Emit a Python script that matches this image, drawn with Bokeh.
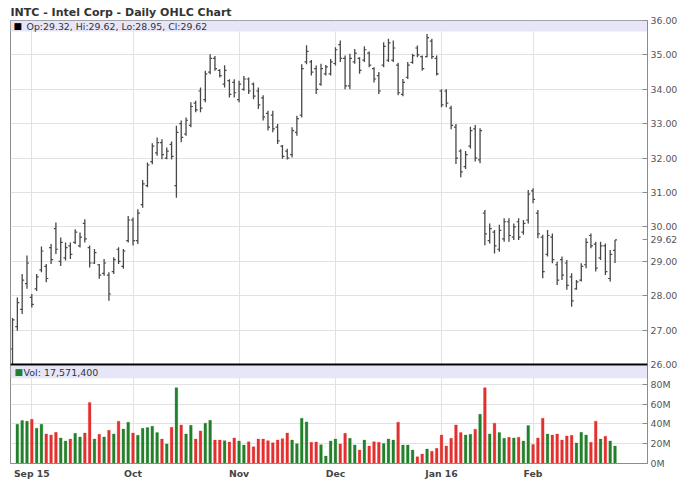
import numpy as np
import pandas as pd
from bokeh.plotting import figure
from bokeh.models import (Range1d, FixedTicker, Label, BoxAnnotation, Span,
                          ColumnDataSource)
from bokeh.embed import file_html
from bokeh.resources import INLINE

# ---------------- data ----------------
chart_title = "INTC - Intel Corp - Daily OHLC Chart"
first_day = "2015-08-26"
last_day = "2016-02-25"
holidays = ["2015-09-07", "2015-11-26", "2015-12-25", "2016-01-01", "2016-01-18", "2016-02-15"]

opens = [26.45, 27.10, 27.60, 28.35, 27.95, 28.20, 28.75, 28.85, 29.40, 29.95,
         29.00, 29.10, 29.45, 29.55, 29.45, 30.10, 29.40, 28.95, 28.90, 28.65,
         28.60, 28.70, 29.35, 28.85, 29.60, 30.20, 29.60, 30.65, 31.20, 31.90,
         32.15, 32.45, 32.00, 32.40, 31.20, 33.00, 32.70, 32.95, 33.60, 33.95,
         33.70, 34.50, 34.90, 34.55, 34.15, 34.25, 34.20, 33.70, 34.00, 34.30,
         34.15, 33.95, 33.75, 33.30, 33.25, 32.90, 32.35, 32.20, 32.10, 32.75,
         33.25, 34.80, 34.80, 34.60, 34.15, 34.45, 34.45, 34.75, 35.30, 34.90,
         34.10, 34.80, 34.90, 34.85, 35.05, 34.60, 34.40, 34.70, 34.85, 34.85,
         34.70, 33.85, 34.35, 34.78, 35.20, 34.95, 34.95, 35.40, 34.90, 33.95,
         33.95, 33.45, 32.90, 32.20, 31.75, 32.35, 32.85, 31.95, 30.40, 29.60,
         29.85, 29.35, 29.65, 30.15, 29.70, 30.15, 29.85, 30.20, 31.05, 30.40,
         29.70, 29.20, 29.70, 28.90, 29.05, 28.95, 28.55, 28.20, 28.45, 28.90,
         29.75, 29.50, 29.10, 29.45, 28.50, 29.32]
highs = [27.35, 27.95, 28.63, 29.17, 28.05, 28.63, 29.43, 28.92, 29.50, 30.13,
         29.69, 29.55, 29.55, 29.93, 29.84, 30.22, 29.46, 29.36, 28.92, 29.07,
         28.68, 29.12, 29.41, 29.36, 30.32, 30.27, 30.51, 31.36, 31.87, 32.43,
         32.60, 32.55, 32.31, 32.48, 32.94, 33.09, 33.18, 33.62, 33.67, 34.05,
         34.54, 35.02, 34.97, 34.58, 34.70, 34.29, 34.29, 34.25, 34.39, 34.34,
         34.20, 34.05, 33.83, 33.38, 33.38, 32.99, 32.38, 32.27, 32.90, 33.23,
         34.73, 35.28, 34.85, 34.69, 34.74, 34.71, 34.88, 35.22, 35.42, 34.98,
         35.03, 35.17, 34.93, 35.25, 35.10, 34.64, 34.50, 35.37, 35.47, 35.42,
         34.77, 34.30, 34.79, 35.03, 35.27, 34.98, 35.61, 35.47, 34.98, 34.00,
         34.00, 33.52, 32.99, 32.26, 32.21, 32.91, 32.96, 32.87, 30.49, 30.10,
         29.91, 30.06, 30.25, 30.25, 30.10, 30.25, 30.20, 31.07, 31.12, 30.49,
         29.77, 29.91, 29.81, 28.99, 29.14, 29.04, 28.65, 28.46, 28.94, 29.67,
         29.81, 29.57, 29.57, 29.52, 29.33, 29.62]
lows = [26.00, 26.98, 27.47, 28.20, 27.66, 28.14, 28.68, 28.39, 28.92, 29.21,
        28.86, 29.02, 29.07, 29.50, 29.40, 29.55, 28.82, 28.92, 28.49, 28.58,
        27.85, 28.63, 28.92, 28.78, 29.55, 29.46, 29.50, 30.56, 31.15, 31.82,
        32.07, 31.97, 31.97, 31.96, 30.85, 32.46, 32.65, 32.90, 33.33, 33.33,
        33.62, 34.44, 34.54, 34.34, 34.05, 33.76, 33.76, 33.62, 33.96, 33.86,
        33.71, 33.43, 33.09, 32.80, 32.75, 32.41, 31.98, 31.96, 32.02, 32.65,
        33.18, 34.73, 34.40, 33.86, 34.10, 34.40, 34.40, 34.69, 34.79, 34.00,
        34.00, 34.74, 34.45, 34.79, 34.64, 34.20, 33.86, 34.64, 34.79, 34.79,
        33.83, 33.80, 34.30, 34.74, 34.93, 34.54, 34.93, 34.88, 34.40, 33.48,
        33.48, 32.84, 31.83, 31.44, 31.68, 32.28, 31.90, 31.85, 29.47, 29.52,
        29.23, 29.28, 29.57, 29.57, 29.62, 29.62, 29.77, 30.10, 30.69, 29.67,
        28.51, 29.14, 28.94, 28.31, 28.46, 28.17, 27.68, 28.17, 28.41, 28.80,
        29.38, 28.70, 29.04, 28.60, 28.41, 28.95]
closes = [27.30, 27.80, 28.45, 28.95, 27.75, 28.55, 29.30, 28.50, 29.05, 29.35,
          29.55, 29.40, 29.20, 29.85, 29.70, 29.65, 28.95, 29.25, 28.60, 28.95,
          28.05, 29.05, 29.00, 29.30, 30.20, 29.60, 30.40, 31.25, 31.80, 32.35,
          32.45, 32.10, 32.20, 32.05, 32.75, 32.60, 33.10, 33.50, 33.40, 33.45,
          34.45, 34.90, 34.60, 34.40, 34.55, 33.85, 33.90, 34.15, 34.30, 33.95,
          33.80, 33.55, 33.20, 32.90, 32.85, 32.50, 32.05, 32.00, 32.80, 33.15,
          34.60, 35.10, 34.50, 34.00, 34.60, 34.65, 34.80, 35.15, 34.90, 34.10,
          34.90, 35.05, 34.55, 35.15, 34.70, 34.30, 33.95, 35.25, 35.35, 35.20,
          33.90, 34.20, 34.70, 34.98, 35.00, 34.60, 35.50, 34.95, 34.45, 33.55,
          33.60, 32.95, 32.00, 31.60, 32.10, 32.80, 32.00, 32.80, 29.80, 29.95,
          29.45, 29.90, 30.15, 29.75, 30.00, 29.70, 30.10, 30.95, 30.80, 29.80,
          28.70, 29.75, 29.05, 28.45, 28.60, 28.30, 27.85, 28.40, 28.85, 29.55,
          29.45, 28.80, 29.45, 28.70, 29.20, 29.62]
# volume in millions of shares (first day not shown in the chart)
volumes_m = [float("nan"), 39.7, 43.4, 42.7, 44.7, 35.6, 39.7, 29.8, 28.8, 31.5,
             25.8, 22.7, 24.7, 30.5, 26.8, 30.8, 61.7, 24.7, 29.5, 26.8,
             33.6, 29.8, 42.7, 34.9, 41.7, 30.8, 28.5, 35.6, 36.3, 37.6,
             31.2, 24.7, 19.7, 36.6, 76.6, 39.0, 29.8, 38.6, 24.7, 32.9,
             40.7, 43.7, 23.7, 23.7, 23.1, 21.7, 25.8, 22.7, 18.6, 22.0,
             16.9, 24.7, 24.7, 23.1, 21.0, 23.7, 25.1, 30.8, 23.7, 20.0,
             45.8, 42.0, 21.4, 21.7, 19.0, 7.5, 22.7, 24.7, 19.7, 30.5,
             25.4, 18.6, 13.6, 23.7, 17.6, 22.0, 21.4, 20.3, 24.7, 23.7,
             41.7, 18.6, 18.6, 13.6, 6.8, 9.5, 14.6, 12.5, 15.3, 28.8,
             17.6, 25.4, 39.0, 31.2, 28.8, 29.5, 34.6, 49.8, 76.6, 29.8,
             40.7, 31.2, 25.4, 26.4, 25.8, 26.4, 22.7, 38.3, 19.3, 25.8,
             45.8, 29.8, 28.8, 29.8, 23.7, 27.8, 28.5, 20.7, 31.5, 28.8,
             21.4, 42.7, 24.7, 27.5, 22.7, 17.5714]
month_labels = ["Sep 15", "Oct", "Nov", "Dec", "Jan 16", "Feb"]
price_ticks = [26, 27, 28, 29, 30, 31, 32, 33, 34, 35, 36]
vol_ticks = [0, 20, 40, 60, 80]
vol_tick_labels = ["0M", "20M", "40M", "60M", "80M"]
vol_top = 100

# ---------------- derived ----------------
dates = [d for d in pd.bdate_range(first_day, last_day) if d.strftime("%Y-%m-%d") not in holidays]
n = len(closes)
xs = list(range(n))
month_idx = [i for i in range(1, len(dates)) if dates[i].month != dates[i - 1].month]

GREEN = "#22802a"
RED = "#e3302f"
BAR = "#484848"
GRID = "#e2e2e2"
AXIS = "#8c8c8c"
BAND = "#e6e6f8"
FONT = "DejaVu Sans"

# panel geometry (pixels): price panel over volume panel in one frame
PRICE_PX = 344
VOL_PX = 99
p_lo, p_hi = price_ticks[0], price_ticks[-1]
y_start = p_lo - (p_hi - p_lo) * VOL_PX / PRICE_PX
vol_end = vol_top * (PRICE_PX + VOL_PX) / VOL_PX


def vol_to_price(v):
    return y_start + v * (p_hi - y_start) / vol_end


colors = [GREEN if c >= o else RED for o, c in zip(opens, closes)]
src = ColumnDataSource(dict(
    x=xs, xl=[i - 0.42 for i in xs], xr=[i + 0.42 for i in xs],
    o=opens, h=highs, l=lows, c=closes, v=np.array(volumes_m), color=colors))

x_range = Range1d(-0.42, 131.74)

p = figure(width=684, height=485, x_range=x_range, y_range=Range1d(y_start, p_hi),
           y_axis_location="right", toolbar_location=None, output_backend="svg",
           min_border_left=10, min_border_right=37, min_border_top=20, min_border_bottom=22)
p.extra_y_ranges = {"vol": Range1d(0, vol_end)}
p.outline_line_color = AXIS

p.title.text = chart_title
p.title.text_font = FONT
p.title.text_font_style = "bold"
p.title.text_font_size = "11px"
p.title.text_color = "#333333"
p.title.standoff = 3
p.title.offset = 0

# right axis: price ticks, volume ticks (mapped into the same scale) and last close
vol_tick_pos = [vol_to_price(v) for v in vol_ticks]
axis_ticks = price_ticks + vol_tick_pos + [closes[-1]]
overrides = {t: "%.2f" % t for t in price_ticks}
overrides.update({pos: lab for pos, lab in zip(vol_tick_pos, vol_tick_labels)})
overrides[closes[-1]] = "%.2f" % closes[-1]

ya = p.yaxis[0]
ya.ticker = FixedTicker(ticks=axis_ticks)
ya.major_label_overrides = overrides
ya.axis_line_color = AXIS
ya.major_tick_line_color = AXIS
ya.major_tick_in = 5
ya.major_tick_out = 0
ya.minor_tick_line_color = None
ya.major_label_standoff = 3
ya.major_label_text_font = FONT
ya.major_label_text_font_size = "9.4px"
ya.major_label_text_color = "#555555"

p.ygrid.ticker = FixedTicker(ticks=price_ticks[1:] + vol_tick_pos[1:])
p.ygrid.grid_line_color = GRID
p.xgrid.grid_line_color = GRID

xa = p.xaxis[0]
xa.ticker = FixedTicker(ticks=month_idx)
xa.major_label_overrides = {i: s for i, s in zip(month_idx, month_labels)}
xa.axis_line_color = AXIS
xa.major_tick_line_color = None
xa.major_tick_out = 0
xa.major_tick_in = 0
xa.minor_tick_line_color = None
xa.major_label_standoff = 4
xa.major_label_text_font = FONT
xa.major_label_text_font_style = "bold"
xa.major_label_text_font_size = "9.3px"
xa.major_label_text_color = "#444444"

# header bands
p.add_layout(BoxAnnotation(bottom=p_hi - 0.32, top=p_hi, fill_color=BAND, fill_alpha=1.0,
                           line_color=None, level="underlay"))
p.add_layout(BoxAnnotation(bottom=86, top=98.5, y_range_name="vol", fill_color=BAND,
                           fill_alpha=1.0, line_color=None, level="underlay"))

# price bars
p.segment(x0="x", y0="l", x1="x", y1="h", source=src, line_color=BAR, line_width=1.3)
p.segment(x0="xl", y0="o", x1="x", y1="o", source=src, line_color=BAR, line_width=1.2)
p.segment(x0="x", y0="c", x1="xr", y1="c", source=src, line_color=BAR, line_width=1.2)

# volume bars
p.vbar(x="x", top="v", bottom=0, width=0.56, source=src, y_range_name="vol",
       fill_color="color", line_color="color", line_width=0.3)

# separator between panels
p.add_layout(Span(location=p_lo, dimension="width", line_color="black", line_width=2.2))

# header texts
hdr = "Op:%.2f, Hi:%.2f, Lo:%.2f, Cl:%.2f" % (opens[-1], highs[-1], lows[-1], closes[-1])
p.add_layout(Label(x=x_range.start, y=p_hi - 0.16, x_offset=3, text="\u25a0",
                   text_font=FONT, text_font_size="9px", text_color="black",
                   text_baseline="middle"))
p.add_layout(Label(x=x_range.start, y=p_hi - 0.16, x_offset=16, text=hdr,
                   text_font=FONT, text_font_size="9.4px", text_color="#333333",
                   text_baseline="middle"))
p.add_layout(Label(x=x_range.start, y=92, y_range_name="vol", x_offset=4, text="\u25a0",
                   text_font=FONT, text_font_size="9px", text_color=GREEN,
                   text_baseline="middle"))
p.add_layout(Label(x=x_range.start, y=92, y_range_name="vol", x_offset=13,
                   text="Vol: {:,}".format(int(round(volumes_m[-1] * 1e6))),
                   text_font=FONT, text_font_size="9.5px", text_color="#333333",
                   text_baseline="middle"))

open("out.html", "w").write(file_html(p, INLINE))
